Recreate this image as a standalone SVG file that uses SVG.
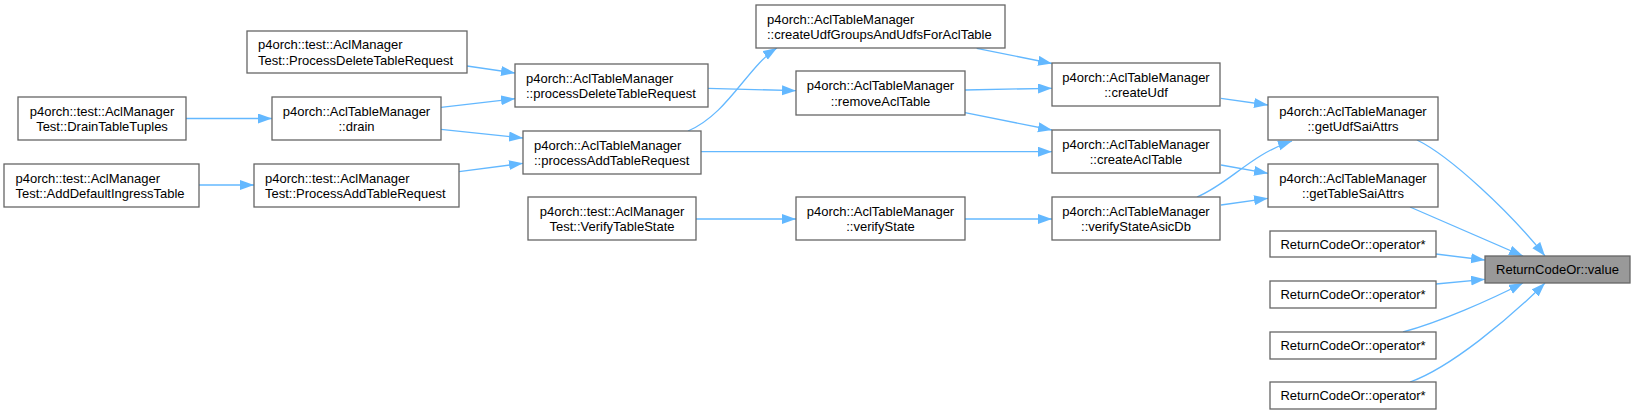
<svg xmlns="http://www.w3.org/2000/svg" width="1635" height="415" viewBox="0 0 1635 415">
<defs>
<style>
.n rect{fill:#ffffff;stroke:#666666;stroke-width:1.3}
.n.hl rect{fill:#999999}
text{font-family:"Liberation Sans",Arial,sans-serif;font-size:13px;fill:#000000}
.c{text-anchor:middle}
.l{text-anchor:start}
#edges path{fill:none;stroke:#63b8ff;stroke-width:1.3;marker-end:url(#ah)}
</style>
<marker id="ah" markerUnits="userSpaceOnUse" markerWidth="15" markerHeight="11" refX="14" refY="5" orient="auto"><path d="M0,0 L14,5 L0,10 z" fill="#63b8ff" stroke="none"/></marker>
</defs>
<rect width="1635" height="415" fill="#ffffff"/>
<g id="edges">
<path d="M467,66 L515,73"/>
<path d="M186,118.5 L272,118.5"/>
<path d="M441,107.3 L515,98.7"/>
<path d="M441,129.3 L523,138"/>
<path d="M459,171.7 L523,163.3"/>
<path d="M199,185 L254,185"/>
<path d="M688,131 C728,114 748,66 777,48"/>
<path d="M701,151.7 L1052,151.7"/>
<path d="M708,88.3 L796,90.7"/>
<path d="M696,219 L796,219"/>
<path d="M965,219 L1052,219"/>
<path d="M976.7,48.3 L1052,63.5"/>
<path d="M965,90 L1052,88.3"/>
<path d="M965,112.7 L1052,130"/>
<path d="M1221,98.3 L1268,105"/>
<path d="M1221,165 L1268,173.3"/>
<path d="M1197,197 C1230,183 1250,155 1292,141"/>
<path d="M1221,205 L1268,198.3"/>
<path d="M1417,140 C1450,156 1510,212 1545,256"/>
<path d="M1410,207 L1523,256"/>
<path d="M1436,254 L1485,260"/>
<path d="M1436,284 L1485,279.3"/>
<path d="M1403,332 C1440,322 1490,300 1523,283"/>
<path d="M1410,382 C1450,368 1510,318 1545,283"/>
</g>
<g id="n_test_procdel" class="n"><rect x="247" y="31" width="220" height="42"/><text class="l" x="258" y="49">p4orch::test::AclManager</text><text class="l" x="258" y="64.5">Test::ProcessDeleteTableRequest</text></g>
<g id="n_test_drain" class="n"><rect x="18" y="97" width="168" height="43"/><text class="c" x="102" y="115.5">p4orch::test::AclManager</text><text class="c" x="102" y="131">Test::DrainTableTuples</text></g>
<g id="n_drain" class="n"><rect x="272" y="97" width="169" height="43"/><text class="c" x="356.5" y="115.5">p4orch::AclTableManager</text><text class="c" x="356.5" y="131">::drain</text></g>
<g id="n_test_adddef" class="n"><rect x="4" y="164" width="195" height="43"/><text class="l" x="15.5" y="182.5">p4orch::test::AclManager</text><text class="l" x="15.5" y="198">Test::AddDefaultIngressTable</text></g>
<g id="n_test_procadd" class="n"><rect x="254" y="164" width="205" height="43"/><text class="l" x="265" y="182.5">p4orch::test::AclManager</text><text class="l" x="265" y="198">Test::ProcessAddTableRequest</text></g>
<g id="n_test_verify" class="n"><rect x="528" y="197" width="168" height="43"/><text class="c" x="612" y="215.5">p4orch::test::AclManager</text><text class="c" x="612" y="231">Test::VerifyTableState</text></g>
<g id="n_procdel" class="n"><rect x="515" y="64" width="193" height="43"/><text class="l" x="526" y="82.5">p4orch::AclTableManager</text><text class="l" x="526" y="98">::processDeleteTableRequest</text></g>
<g id="n_procadd" class="n"><rect x="523" y="131" width="178" height="43"/><text class="l" x="534" y="149.5">p4orch::AclTableManager</text><text class="l" x="534" y="165">::processAddTableRequest</text></g>
<g id="n_createudfgroups" class="n"><rect x="756" y="5" width="249" height="43"/><text class="l" x="767" y="23.5">p4orch::AclTableManager</text><text class="l" x="767" y="39">::createUdfGroupsAndUdfsForAclTable</text></g>
<g id="n_removeacl" class="n"><rect x="796" y="71" width="169" height="44"/><text class="c" x="880.5" y="90">p4orch::AclTableManager</text><text class="c" x="880.5" y="105.5">::removeAclTable</text></g>
<g id="n_verifystate" class="n"><rect x="796" y="197" width="169" height="43"/><text class="c" x="880.5" y="215.5">p4orch::AclTableManager</text><text class="c" x="880.5" y="231">::verifyState</text></g>
<g id="n_createudf" class="n"><rect x="1052" y="63" width="168" height="43"/><text class="c" x="1136" y="81.5">p4orch::AclTableManager</text><text class="c" x="1136" y="97">::createUdf</text></g>
<g id="n_createacl" class="n"><rect x="1052" y="130" width="168" height="43"/><text class="c" x="1136" y="148.5">p4orch::AclTableManager</text><text class="c" x="1136" y="164">::createAclTable</text></g>
<g id="n_verifyasic" class="n"><rect x="1052" y="197" width="168" height="43"/><text class="c" x="1136" y="215.5">p4orch::AclTableManager</text><text class="c" x="1136" y="231">::verifyStateAsicDb</text></g>
<g id="n_getudf" class="n"><rect x="1268" y="97" width="170" height="43"/><text class="c" x="1353" y="115.5">p4orch::AclTableManager</text><text class="c" x="1353" y="131">::getUdfSaiAttrs</text></g>
<g id="n_gettable" class="n"><rect x="1268" y="164" width="170" height="43"/><text class="c" x="1353" y="182.5">p4orch::AclTableManager</text><text class="c" x="1353" y="198">::getTableSaiAttrs</text></g>
<g id="n_op1" class="n"><rect x="1270" y="231" width="166" height="26"/><text class="c" x="1353" y="248.5">ReturnCodeOr::operator*</text></g>
<g id="n_op2" class="n"><rect x="1270" y="281" width="166" height="27"/><text class="c" x="1353" y="299">ReturnCodeOr::operator*</text></g>
<g id="n_op3" class="n"><rect x="1270" y="332" width="166" height="27"/><text class="c" x="1353" y="350">ReturnCodeOr::operator*</text></g>
<g id="n_op4" class="n"><rect x="1270" y="382" width="166" height="27"/><text class="c" x="1353" y="400">ReturnCodeOr::operator*</text></g>
<g id="n_value" class="n hl"><rect x="1485" y="256" width="145" height="27"/><text class="c" x="1557.5" y="274">ReturnCodeOr::value</text></g>
</svg>
